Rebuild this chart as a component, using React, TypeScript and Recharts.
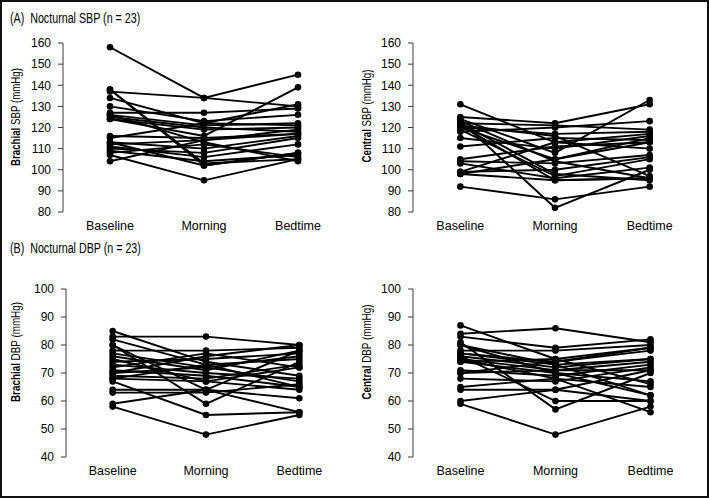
import React from 'react';
import { LineChart, Line, XAxis, YAxis } from 'recharts';

const categories = ['Baseline', 'Morning', 'Bedtime'];
const sbpTicks = [80, 90, 100, 110, 120, 130, 140, 150, 160];
const dbpTicks = [40, 50, 60, 70, 80, 90, 100];
const boundaryTicks = [0, 1, 2, 3];
const labelTicks = [0.5, 1.5, 2.5];

// (A) Brachial SBP
const brachialSbpBaseline = [158, 137, 138, 138, 134, 130, 127, 126, 125, 124, 126, 124, 116, 115, 113, 112, 111, 110, 109, 108, 107, 104, 113];
const brachialSbpMorning = [134, 134, 103, 102, 122, 123, 127, 121, 120, 116, 113, 119, 115, 122, 110, 114, 106, 108, 104, 112, 95, 114, 102];
const brachialSbpBedtime = [145, 130, 105, 108, 131, 126, 129, 122, 118, 139, 104, 120, 117, 121, 116, 119, 112, 115, 107, 106, 105, 117, 108];

// (A) Central SBP
const centralSbpBaseline = [131, 125, 124, 123, 122, 121, 120, 123, 122, 118, 115, 111, 105, 104, 103, 99, 98, 92, 120, 119, 99, 98, 121];
const centralSbpMorning = [113, 122, 108, 82, 121, 116, 117, 104, 98, 120, 110, 115, 111, 103, 96, 100, 95, 86, 105, 97, 113, 105, 95];
const centralSbpBedtime = [110, 131, 133, 100, 119, 97, 118, 96, 95, 123, 116, 114, 113, 107, 101, 106, 96, 92, 115, 105, 117, 113, 96];

// (B) Brachial DBP
const brachialDbpBaseline = [83, 85, 82, 80, 78, 77, 76, 75, 74, 73, 72, 71, 70, 69, 68, 67, 64, 63, 59, 58, 80, 70, 68];
const brachialDbpMorning = [83, 74, 73, 59, 78, 72, 71, 67, 75, 70, 77, 69, 76, 68, 73, 55, 64, 63, 64, 48, 64, 72, 67];
const brachialDbpBedtime = [80, 69, 65, 74, 79, 76, 78, 64, 77, 68, 72, 65, 80, 73, 75, 56, 61, 66, 78, 55, 56, 67, 72];

// (B) Central DBP
const centralDbpBaseline = [84, 87, 83, 81, 80, 78, 77, 76, 75, 74, 71, 70, 68, 65, 64, 60, 59, 76, 75, 80, 77, 74, 70];
const centralDbpMorning = [86, 75, 79, 57, 73, 78, 74, 72, 71, 70, 69, 74, 67, 68, 64, 64, 48, 60, 68, 70, 73, 75, 71];
const centralDbpBedtime = [81, 66, 82, 70, 62, 80, 79, 75, 74, 67, 73, 78, 72, 65, 60, 71, 58, 60, 56, 62, 75, 79, 71];

const FONT = "'Liberation Sans', Arial, sans-serif";

function buildRows(cols: number[][]) {
  return categories.map((cat, ci) => {
    const row: Record<string, number | string> = { pos: ci + 0.5, cat };
    cols[ci].forEach((v, i) => {
      row['s' + i] = v;
    });
    return row;
  });
}

type PanelProps = {
  cols: number[][];
  ticks: number[];
  boldLabel: string;
  restLabel: string;
  left: number;
  top: number;
  width: number;
  height: number;
  margin: { top: number; right: number; bottom: number; left: number };
  labelX: number;
  labelY: number;
  labelLen: number;
};

function Panel(p: PanelProps) {
  const rows = buildRows(p.cols);
  const n = p.cols[0].length;
  const ids = Array.from({ length: n }, (_, i) => i);
  const dom: [number, number] = [p.ticks[0], p.ticks[p.ticks.length - 1]];
  return (
    <div style={{ position: 'absolute', left: p.left, top: p.top }}>
      <LineChart width={p.width} height={p.height} data={rows} margin={p.margin}>
        <XAxis
          type="number"
          dataKey="pos"
          domain={[0, 3]}
          ticks={boundaryTicks}
          interval={0}
          tick={false}
          tickSize={5}
          height={0}
          stroke="#3a3a3a"
          allowDataOverflow
        />
        <XAxis
          xAxisId="lab"
          type="number"
          dataKey="pos"
          domain={[0, 3]}
          ticks={labelTicks}
          interval={0}
          tickFormatter={(v: number) => categories[Math.floor(v)]}
          axisLine={false}
          tickLine={false}
          tickSize={0}
          tickMargin={9}
          height={30}
          tick={{ fill: '#000', fontSize: 12.5, fontFamily: FONT }}
          allowDataOverflow
        />
        <YAxis
          type="number"
          domain={dom}
          ticks={p.ticks}
          interval={0}
          tickSize={5}
          tickMargin={7}
          width={40}
          stroke="#3a3a3a"
          tick={{ fill: '#000', fontSize: 12, fontFamily: FONT }}
          allowDataOverflow
          label={{
            content: () => (
              <text
                x={p.labelX}
                y={p.labelY}
                transform={`rotate(-90 ${p.labelX} ${p.labelY})`}
                textAnchor="middle"
                dominantBaseline="central"
                fontSize={12}
                fontFamily={FONT}
                fill="#000"
                textLength={p.labelLen}
                lengthAdjust="spacingAndGlyphs"
              >
                <tspan fontWeight="bold">{p.boldLabel}</tspan>
                <tspan>{' ' + p.restLabel}</tspan>
              </text>
            ),
          }}
        />
        {ids.map((i) => (
          <Line
            key={i}
            type="linear"
            dataKey={'s' + i}
            stroke="#000"
            strokeWidth={1.9}
            dot={{ r: 3.3, fill: '#000', stroke: '#000', strokeWidth: 0 }}
            activeDot={false}
            isAnimationActive={false}
          />
        ))}
      </LineChart>
    </div>
  );
}

const titleStyle: React.CSSProperties = {
  position: 'absolute',
  left: 8,
  fontFamily: FONT,
  fontSize: 15.5,
  lineHeight: '18px',
  whiteSpace: 'pre',
  color: '#000',
  transform: 'scaleX(0.69)',
  transformOrigin: '0 0',
};

export default function App() {
  return (
    <div
      style={{
        position: 'fixed',
        left: 0,
        top: 0,
        width: 709,
        height: 498,
        boxSizing: 'border-box',
        border: '2px solid #111',
        background: '#fff',
        overflow: 'hidden',
      }}
    >
      <div style={{ position: 'absolute', left: 0, top: 0, width: 709, height: 498 }}>
        <div style={{ ...titleStyle, top: 7 }}>{'(A)  Nocturnal SBP (n = 23)'}</div>
        <div style={{ ...titleStyle, top: 237 }}>{'(B)  Nocturnal DBP (n = 23)'}</div>
        <Panel
          cols={[brachialSbpBaseline, brachialSbpMorning, brachialSbpBedtime]}
          ticks={sbpTicks}
          boldLabel="Brachial"
          restLabel="SBP (mmHg)"
          left={-2}
          top={18}
          width={350}
          height={230}
          margin={{ top: 23, right: 5, bottom: 8, left: 23 }}
          labelX={16}
          labelY={97}
          labelLen={98}
        />
        <Panel
          cols={[centralSbpBaseline, centralSbpMorning, centralSbpBedtime]}
          ticks={sbpTicks}
          boldLabel="Central"
          restLabel="SBP (mmHg)"
          left={348}
          top={18}
          width={355}
          height={230}
          margin={{ top: 23, right: 8, bottom: 8, left: 23 }}
          labelX={17}
          labelY={96}
          labelLen={93}
        />
        <Panel
          cols={[brachialDbpBaseline, brachialDbpMorning, brachialDbpBedtime]}
          ticks={dbpTicks}
          boldLabel="Brachial"
          restLabel="DBP (mmHg)"
          left={-2}
          top={264}
          width={350}
          height={225}
          margin={{ top: 23, right: 4, bottom: 4, left: 26 }}
          labelX={16}
          labelY={86}
          labelLen={100}
        />
        <Panel
          cols={[centralDbpBaseline, centralDbpMorning, centralDbpBedtime]}
          ticks={dbpTicks}
          boldLabel="Central"
          restLabel="DBP (mmHg)"
          left={348}
          top={264}
          width={355}
          height={225}
          margin={{ top: 23, right: 7, bottom: 4, left: 23 }}
          labelX={17}
          labelY={86}
          labelLen={95}
        />
      </div>
    </div>
  );
}
